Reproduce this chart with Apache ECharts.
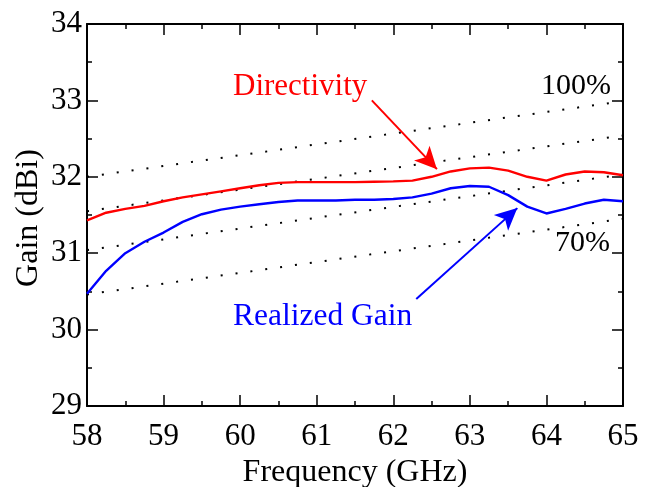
<!DOCTYPE html>
<html>
<head>
<meta charset="utf-8">
<script src="https://cdn.jsdelivr.net/npm/echarts@6/dist/echarts.min.js"></script>
<style>
  html, body { margin: 0; padding: 0; background: #fff; }
  #chart { width: 655px; height: 487px; }
</style>
</head>
<body>
<div id="chart"></div>
<script>
// frequency samples (GHz)
const freq = [58, 58.25, 58.5, 58.75, 59, 59.25, 59.5, 59.75, 60, 60.25, 60.5, 60.75,
  61, 61.25, 61.5, 61.75, 62, 62.25, 62.5, 62.75, 63, 63.25, 63.5, 63.75, 64, 64.25, 64.5, 64.75, 65]
const directivity = [31.43, 31.53, 31.58, 31.62, 31.68, 31.73, 31.77, 31.81, 31.85, 31.89, 31.92, 31.93,
  31.93, 31.93, 31.93, 31.935, 31.94, 31.95, 32.0, 32.07, 32.11, 32.12, 32.08, 32.0, 31.95, 32.03, 32.07, 32.06, 32.02]
const realizedGain = [30.47, 30.77, 31.0, 31.15, 31.27, 31.41, 31.51, 31.57, 31.61, 31.64, 31.67, 31.69,
  31.69, 31.69, 31.7, 31.7, 31.71, 31.73, 31.78, 31.85, 31.88, 31.87, 31.76, 31.61, 31.52, 31.58, 31.65, 31.7, 31.68]

// efficiency reference lines (dotted), end points
const effFreq = [58, 65]
const eff100 = [32.0, 32.99]
const eff90 = [31.55, 32.54]
const eff80 = [31.04, 32.03]
const eff70 = [30.46, 31.45]

const xTicks = [58, 59, 60, 61, 62, 63, 64, 65]
const yTicks = [29, 30, 31, 32, 33, 34]

const FONT = '"Liberation Serif", "Times New Roman", serif'
const chart = echarts.init(document.getElementById('chart'))

function pairs (xs, ys) {
  return xs.map((x, i) => [x, ys[i]])
}

function dotted (name, ys) {
  return {
    name: name,
    type: 'line',
    data: pairs(effFreq, ys),
    symbol: 'none',
    silent: true,
    z: 1,
    lineStyle: { color: '#000', width: 2, type: [2, 13] }
  }
}

const axisBase = {
  type: 'value',
  axisLine: { show: true, onZero: false, lineStyle: { color: '#000', width: 2 } },
  axisTick: { show: true, inside: true, length: 11, lineStyle: { color: '#000', width: 1.5 } },
  minorTick: { show: true, splitNumber: 2, length: 5, lineStyle: { color: '#000', width: 1.5 } },
  splitLine: { show: false },
  interval: 1
}

const options = {
  animation: false,
  backgroundColor: '#fff',
  grid: { left: 87, top: 24, right: 32, bottom: 81, containLabel: false, outerBoundsMode: 'none' },
  xAxis: [
    Object.assign({}, axisBase, {
      min: xTicks[0],
      max: xTicks[xTicks.length - 1],
      position: 'bottom',
      name: 'Frequency (GHz)',
      nameLocation: 'middle',
      nameGap: 41,
      nameTextStyle: { fontFamily: FONT, fontSize: 32, color: '#000' },
      axisLabel: { fontFamily: FONT, fontSize: 31, color: '#000', margin: 15 }
    }),
    Object.assign({}, axisBase, {
      min: xTicks[0],
      max: xTicks[xTicks.length - 1],
      position: 'top',
      axisLabel: { show: false }
    })
  ],
  yAxis: [
    Object.assign({}, axisBase, {
      min: yTicks[0],
      max: yTicks[yTicks.length - 1],
      position: 'left',
      axisLabel: { fontFamily: FONT, fontSize: 31, color: '#000', margin: 5 }
    }),
    Object.assign({}, axisBase, {
      min: yTicks[0],
      max: yTicks[yTicks.length - 1],
      position: 'right',
      axisLabel: { show: false }
    })
  ],
  series: [
    dotted('100%', eff100),
    dotted('90%', eff90),
    dotted('80%', eff80),
    dotted('70%', eff70),
    {
      name: 'Directivity',
      type: 'line',
      data: pairs(freq, directivity),
      symbol: 'none',
      z: 3,
      lineStyle: { color: '#ff0000', width: 2.4 },
      markLine: {
        silent: true,
        symbol: ['none', 'arrow'],
        symbolSize: [16, 22],
        label: { show: false },
        lineStyle: { color: '#ff0000', width: 2, type: 'solid' },
        data: [[{ coord: [61.72, 33.0] }, { coord: [62.57, 32.1] }]]
      }
    },
    {
      name: 'Realized Gain',
      type: 'line',
      data: pairs(freq, realizedGain),
      symbol: 'none',
      z: 3,
      lineStyle: { color: '#0000ff', width: 2.4 },
      markLine: {
        silent: true,
        symbol: ['none', 'arrow'],
        symbolSize: [16, 22],
        label: { show: false },
        lineStyle: { color: '#0000ff', width: 2, type: 'solid' },
        data: [[{ coord: [62.3, 30.4] }, { coord: [63.62, 31.59] }]]
      }
    }
  ],
  graphic: [
    {
      type: 'text',
      x: 29,
      y: 218,
      rotation: Math.PI / 2,
      style: { text: 'Gain (dBi)', fill: '#000', font: '32px ' + FONT, align: 'center', verticalAlign: 'middle' }
    },
    { type: 'text', left: 233, top: 71, style: { text: 'Directivity', fill: '#ff0000', font: '31px ' + FONT } },
    { type: 'text', left: 233, top: 301, style: { text: 'Realized Gain', fill: '#0000ff', font: '31.5px ' + FONT } },
    { type: 'text', left: 541, top: 71, style: { text: '100%', fill: '#000', font: '30px ' + FONT } },
    { type: 'text', left: 555, top: 228, style: { text: '70%', fill: '#000', font: '30px ' + FONT } }
  ]
}

chart.setOption(options)
</script>
</body>
</html>
